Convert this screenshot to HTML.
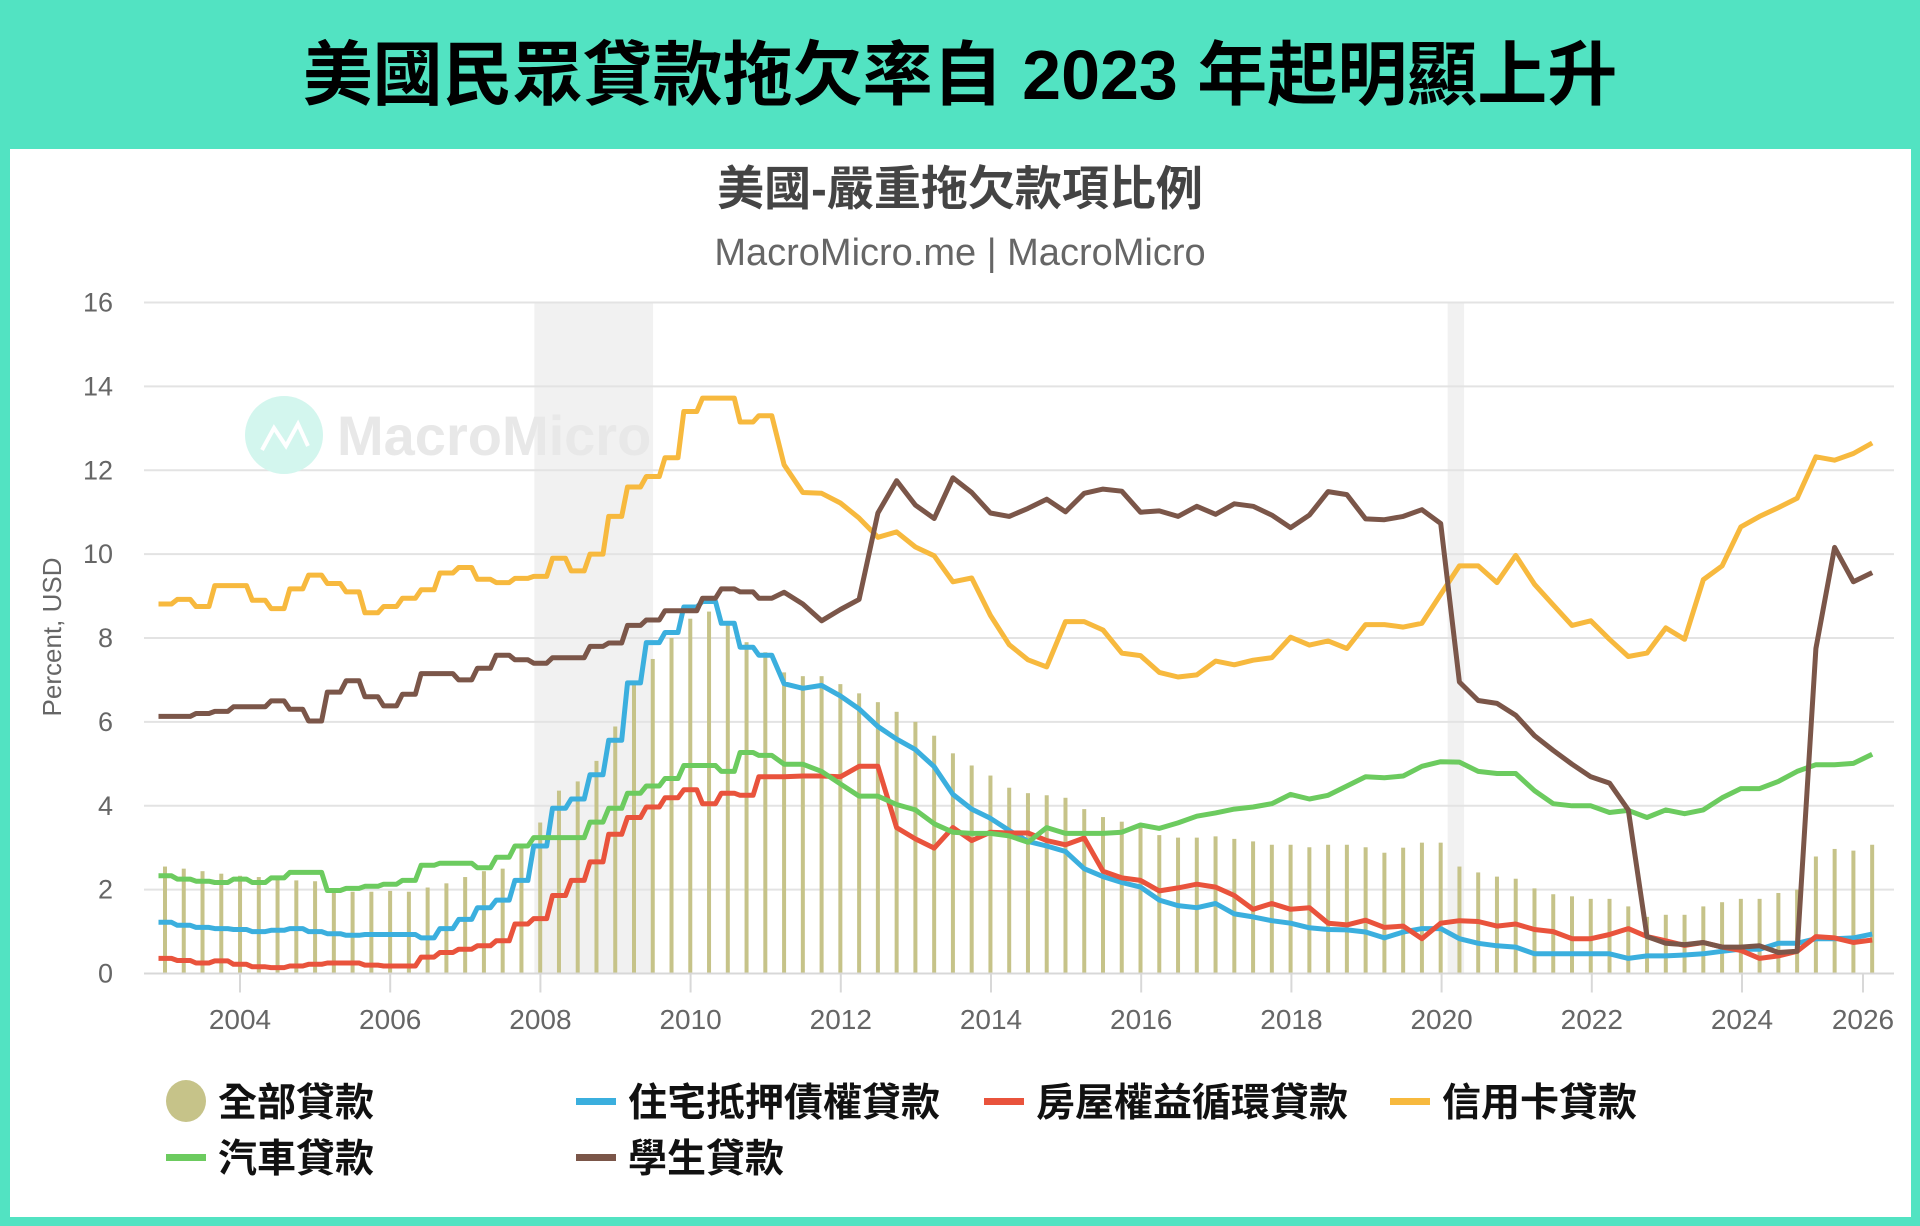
<!DOCTYPE html>
<html><head><meta charset="utf-8">
<style>
html,body{margin:0;padding:0;}
body{width:1920px;height:1226px;background:#52e3c2;position:relative;overflow:hidden;font-family:"Liberation Sans","Noto Sans CJK TC",sans-serif;}
#title{position:absolute;left:0;top:30px;width:1920px;text-align:center;font-size:70px;font-weight:bold;color:#000;line-height:90px;font-family:"Liberation Sans","Noto Sans CJK TC",sans-serif;}
#card{position:absolute;left:10px;top:149px;width:1901px;height:1068px;background:#fff;}
svg{position:absolute;left:0;top:0;}
</style></head>
<body>
<div id="title">美國民眾貸款拖欠率自 2023 年起明顯上升</div>
<div id="card"></div>
<svg id="chart" width="1920" height="1226" font-family="Liberation Sans, Noto Sans CJK TC, sans-serif"></svg>
<script>
const yTicks=[0,2,4,6,8,10,12,14,16];
const xTickYears=[2004,2006,2008,2010,2012,2014,2016,2018,2020,2022,2024,2026];
const recessions=[[2007.92,2009.5],[2020.08,2020.3]];
const allLoans=[2.55,2.5,2.44,2.38,2.33,2.3,2.25,2.22,2.2,1.95,
1.95,1.95,1.97,1.95,2.05,2.15,2.3,2.44,2.5,3.0,
3.6,4.36,4.58,5.07,5.89,6.9,7.5,8.0,8.46,8.63,
8.3,7.9,7.66,7.18,7.09,7.09,6.9,6.68,6.47,6.24,
6.0,5.67,5.25,4.96,4.72,4.43,4.3,4.25,4.19,3.92,
3.73,3.62,3.48,3.3,3.24,3.24,3.27,3.21,3.15,3.07,
3.07,3.01,3.07,3.07,3.01,2.88,3.0,3.12,3.12,2.55,
2.41,2.31,2.26,2.03,1.89,1.84,1.78,1.78,1.6,1.35,
1.4,1.4,1.6,1.7,1.78,1.78,1.92,2.0,2.79,2.97,
2.93,3.07];
const mortgage=[1.22,1.15,1.1,1.07,1.05,1.0,1.03,1.07,1.0,0.95,
0.91,0.93,0.93,0.93,0.85,1.07,1.29,1.57,1.75,2.22,
3.04,3.94,4.16,4.74,5.56,6.93,7.89,8.13,8.74,8.87,
8.35,7.78,7.59,6.91,6.8,6.87,6.62,6.31,5.89,5.59,
5.34,4.93,4.27,3.92,3.7,3.41,3.15,3.04,2.91,2.5,
2.31,2.17,2.06,1.75,1.62,1.57,1.67,1.42,1.35,1.26,
1.2,1.09,1.05,1.04,0.99,0.85,0.99,1.07,1.07,0.83,
0.72,0.66,0.63,0.47,0.47,0.47,0.47,0.47,0.36,0.42,
0.42,0.44,0.47,0.53,0.58,0.58,0.72,0.72,0.83,0.83,
0.85,0.94];
const heloc=[0.36,0.31,0.25,0.3,0.22,0.16,0.14,0.18,0.22,0.25,
0.25,0.2,0.18,0.18,0.39,0.5,0.58,0.66,0.78,1.18,
1.31,1.86,2.22,2.66,3.32,3.72,3.97,4.19,4.38,4.05,
4.3,4.25,4.69,4.69,4.71,4.71,4.69,4.94,4.94,3.48,
3.21,2.99,3.48,3.17,3.37,3.35,3.35,3.17,3.07,3.23,
2.44,2.28,2.22,1.97,2.04,2.13,2.06,1.86,1.53,1.67,
1.53,1.57,1.2,1.16,1.27,1.1,1.13,0.83,1.2,1.26,
1.24,1.13,1.18,1.05,1.0,0.83,0.83,0.93,1.07,0.88,
0.78,0.67,0.74,0.63,0.55,0.36,0.42,0.53,0.88,0.85,
0.74,0.8];
const creditCard=[8.81,8.92,8.75,9.25,9.25,8.9,8.7,9.17,9.5,9.3,
9.1,8.6,8.75,8.95,9.15,9.55,9.68,9.4,9.32,9.42,
9.47,9.9,9.6,10.0,10.9,11.6,11.85,12.3,13.4,13.72,
13.72,13.15,13.3,12.13,11.47,11.45,11.22,10.86,10.4,10.53,
10.17,9.96,9.34,9.43,8.54,7.84,7.48,7.31,8.39,8.39,
8.19,7.64,7.58,7.18,7.07,7.12,7.45,7.36,7.47,7.53,
8.02,7.83,7.93,7.75,8.32,8.32,8.26,8.35,9.04,9.72,
9.72,9.32,9.97,9.28,8.79,8.3,8.41,7.97,7.56,7.64,
8.24,7.97,9.39,9.72,10.65,10.9,11.11,11.33,12.32,12.24,
12.4,12.65];
const auto=[2.33,2.25,2.2,2.17,2.25,2.17,2.28,2.41,2.41,1.98,
2.03,2.08,2.13,2.22,2.58,2.63,2.63,2.52,2.77,3.04,
3.24,3.24,3.24,3.61,3.94,4.3,4.47,4.65,4.96,4.96,
4.82,5.27,5.2,4.99,4.99,4.82,4.52,4.23,4.23,4.03,
3.9,3.57,3.37,3.34,3.34,3.28,3.13,3.48,3.34,3.34,
3.34,3.37,3.54,3.46,3.59,3.75,3.83,3.92,3.97,4.05,
4.27,4.16,4.25,4.47,4.69,4.67,4.71,4.94,5.05,5.04,
4.82,4.77,4.77,4.36,4.05,4.0,4.0,3.84,3.89,3.72,
3.9,3.81,3.9,4.19,4.41,4.41,4.58,4.82,4.98,4.98,
5.01,5.23];
const student=[6.13,6.13,6.2,6.25,6.36,6.36,6.5,6.3,6.02,6.71,
6.98,6.6,6.38,6.66,7.15,7.15,7.0,7.28,7.59,7.48,
7.4,7.53,7.53,7.8,7.88,8.3,8.43,8.65,8.65,8.95,
9.17,9.1,8.95,9.09,8.81,8.41,8.68,8.92,10.98,11.75,
11.17,10.85,11.82,11.47,10.98,10.9,11.09,11.31,11.01,11.45,
11.55,11.5,11.0,11.03,10.9,11.14,10.95,11.2,11.14,10.93,
10.63,10.93,11.49,11.42,10.84,10.82,10.9,11.06,10.73,6.95,
6.51,6.44,6.16,5.67,5.32,4.99,4.69,4.54,3.9,0.88,
0.72,0.69,0.74,0.63,0.63,0.66,0.5,0.53,7.75,10.16,
9.34,9.56];
const seriesNames=['mortgage-line','heloc-line','credit-card-line','auto-line','student-line'];
const seriesColors=['#3bafde','#e9533c','#f7b93e','#6ccb5f','#7b5649'];
const legendLabels=['全部貸款','住宅抵押債權貸款','房屋權益循環貸款','信用卡貸款','汽車貸款','學生貸款'];

const NS='http://www.w3.org/2000/svg';
const svg=document.getElementById('chart');
const PL=144,PR=1894,PT=302.5,PB=973.5,YMAX=16,STEP_UNTIL=32;
function yS(v){return PB-(v/YMAX)*(PB-PT);}
function xIdx(i){return 165+i*18.76;}
function xYear(y){return Math.min(240+(y-2004)*75.1,1863);}
function mk(tag,attrs,parent){const e=document.createElementNS(NS,tag);for(const k in attrs)e.setAttribute(k,attrs[k]);(parent||svg).appendChild(e);return e;}

recessions.forEach(function(r){
  const e=mk('rect',{x:xYear(r[0]),y:PT,width:xYear(r[1])-xYear(r[0]),height:PB-PT,fill:'#f1f1f1'});
  
  
});
yTicks.forEach(function(t){
  const g=mk('line',{x1:PL,x2:PR,y1:yS(t),y2:yS(t),stroke:'#e3e3e3','stroke-width':2});
  
  
  const l=mk('text',{x:113,y:yS(t)+9,'text-anchor':'end','font-size':27,fill:'#666'});
  l.textContent=t;
  
  
});
const wc=mk('circle',{cx:284,cy:435,r:39,fill:'#d3f6ee'});


mk('polyline',{points:'262,450 274,428 286,446 298,424 308,446',fill:'none',stroke:'#fff','stroke-width':4});
const wt=mk('text',{x:337,y:455,'font-size':56,'font-weight':'bold',fill:'#e8e8e8'});
wt.textContent='MacroMicro';



allLoans.forEach(function(v,i){
  const b=mk('rect',{x:xIdx(i)-2,y:yS(v),width:4,height:PB-yS(v),fill:'#c6c389'});
  
  
});
const ax=mk('line',{x1:PL,x2:PR,y1:PB,y2:PB,stroke:'#d8d8d8','stroke-width':2});


xTickYears.forEach(function(y){
  const t=mk('line',{x1:xYear(y),x2:xYear(y),y1:PB,y2:PB+19,stroke:'#d8d8d8','stroke-width':2});
  
  
  const l=mk('text',{x:xYear(y),y:1029,'text-anchor':'middle','font-size':28,fill:'#666'});
  l.textContent=y;
  
  
});
[mortgage,heloc,creditCard,auto,student].forEach(function(arr,s){
  const pts=[];
  arr.forEach(function(v,i){
    const x=xIdx(i),y=yS(v).toFixed(1);
    if(i<=STEP_UNTIL){pts.push((x-6.5).toFixed(1)+','+y);pts.push((x+6.5).toFixed(1)+','+y);}
    else pts.push(x.toFixed(1)+','+y);
  });
  const p=mk('polyline',{points:pts.join(' '),fill:'none',stroke:seriesColors[s],'stroke-width':5,'stroke-linejoin':'round'});
  
  
});
const t1=mk('text',{x:960,y:205,'text-anchor':'middle','font-size':47,'font-weight':'bold',fill:'#444'});
t1.textContent='美國-嚴重拖欠款項比例';


const t2=mk('text',{x:960,y:265,'text-anchor':'middle','font-size':38,fill:'#666'});
t2.textContent='MacroMicro.me | MacroMicro';


const yt=mk('text',{x:0,y:0,'text-anchor':'middle','font-size':26,fill:'#666',transform:'translate(61,637) rotate(-90)'});
yt.textContent='Percent, USD';


const legPos=[[184,1101],[594,1101],[1002,1101],[1408,1101],[184,1157],[594,1157]];
const legColors=['#c6c389','#3bafde','#e9533c','#f7b93e','#6ccb5f','#7b5649'];
legendLabels.forEach(function(lab,k){
  const p=legPos[k];
  const g=mk('g',{});
  
  
  if(k===0){mk('ellipse',{cx:p[0]+2,cy:p[1],rx:20,ry:21,fill:legColors[k]},g);}
  else{mk('rect',{x:p[0]-18,y:p[1]-3,width:40,height:7,fill:legColors[k]},g);}
  const tx=mk('text',{x:p[0]+34,y:p[1]+15,'font-size':39,'font-weight':'bold',fill:'#111'},g);
  tx.textContent=lab;
});
</script>
</body></html>
